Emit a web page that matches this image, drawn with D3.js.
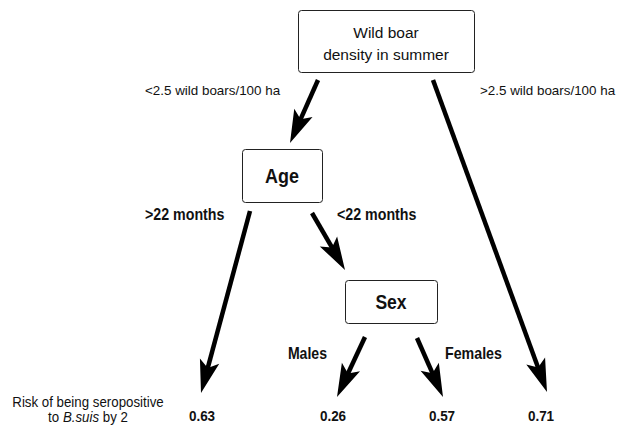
<!doctype html>
<html lang="en">
<head>
<meta charset="utf-8">
<title>Wild boar tree</title>
<style>
html, body {
	margin: 0;
	padding: 0;
	background: #fff;
	overflow: hidden;
}
svg text {
	font-family: 'Liberation Sans', Arial, sans-serif;
	fill: #111;
}
</style>
</head>
<body>
<div id="chart"></div>
<script src="https://cdnjs.cloudflare.com/ajax/libs/d3/7.8.5/d3.min.js"></script>
<script>
// nodes of the tree (split variables)
var nodeNames = ['density', 'age', 'sex'];
var nodeLabels = [['Wild boar', 'density in summer'], ['Age'], ['Sex']];

// branches: from node -> to node or leaf, with condition label
var edgeFrom = ['density', 'density', 'age', 'age', 'sex', 'sex'];
var edgeTo = ['age', 'leaf4', 'leaf1', 'sex', 'leaf2', 'leaf3'];
var edgeLabels = ['<2.5 wild boars/100 ha', '>2.5 wild boars/100 ha', '>22 months', '<22 months', 'Males', 'Females'];

// leaves: risk of being seropositive
var leafNames = ['leaf1', 'leaf2', 'leaf3', 'leaf4'];
var leafValues = [0.63, 0.26, 0.57, 0.71];

var W = 624, H = 425;

var svg = d3.select('#chart').append('svg')
	.attr('width', W)
	.attr('height', H);

// text helper: condensed text via horizontal scale
var label = function (x, y, str, o) {
	var g = svg.append('g')
		.attr('transform', 'translate(' + x + ',' + y + ') scale(' + (o.sx || 1) + ',1)');
	return g.append('text')
		.attr('text-anchor', o.anchor || 'middle')
		.attr('font-size', o.size)
		.attr('font-weight', o.bold ? 'bold' : 'normal')
		.text(str);
};

// layout (pixel space)
var boxes = {
	density: {x: 298, y: 10, w: 176, h: 62, size: 15.5, bold: false, sx: 1, lines: [38, 60]},
	age: {x: 242, y: 149, w: 80, h: 53, size: 19.5, bold: true, sx: 0.92, lines: [183]},
	sex: {x: 345, y: 280, w: 92, h: 43, size: 19.5, bold: true, sx: 0.9, lines: [309]}
};
var leafX = {leaf1: 202, leaf2: 333, leaf3: 442, leaf4: 541};
var leafY = 421;

// arrow start / tip
var arrows = [
	{s: [318, 80], t: [290, 143]},
	{s: [433, 80], t: [547, 392]},
	{s: [250, 211], t: [201, 393]},
	{s: [312, 213], t: [345, 270]},
	{s: [365, 337], t: [337, 397]},
	{s: [417, 338], t: [443, 397]}
];
var labelPos = [
	{x: 145, y: 95, size: 13.4, bold: false, sx: 1, anchor: 'start'},
	{x: 480, y: 95, size: 13.4, bold: false, sx: 1, anchor: 'start'},
	{x: 145, y: 220, size: 16, bold: true, sx: 0.89, anchor: 'start'},
	{x: 337, y: 220, size: 16, bold: true, sx: 0.89, anchor: 'start'},
	{x: 327, y: 359, size: 16, bold: true, sx: 0.88, anchor: 'end'},
	{x: 445, y: 359, size: 16, bold: true, sx: 0.89, anchor: 'start'}
];

// boxes
nodeNames.forEach(function (n, i) {
	var b = boxes[n];
	svg.append('rect')
		.attr('x', b.x + 0.5).attr('y', b.y + 0.5)
		.attr('width', b.w).attr('height', b.h)
		.attr('rx', 3)
		.attr('fill', '#fff')
		.attr('stroke', '#222')
		.attr('stroke-width', 1);
	nodeLabels[i].forEach(function (l, j) {
		label(b.x + b.w / 2, b.lines[j], l, {size: b.size, bold: b.bold, sx: b.sx});
	});
});

// arrows: thick shaft plus barbed head
var HEAD = 33, NOTCH = 26, HALF = 10;
var arrowPath = function (a) {
	var dx = a.t[0] - a.s[0], dy = a.t[1] - a.s[1];
	var len = Math.sqrt(dx * dx + dy * dy);
	var ux = dx / len, uy = dy / len;
	var px = -uy, py = ux;
	var bx = a.t[0] - ux * HEAD, by = a.t[1] - uy * HEAD;
	var nx = a.t[0] - ux * NOTCH, ny = a.t[1] - uy * NOTCH;
	var p = d3.path();
	p.moveTo(a.t[0], a.t[1]);
	p.lineTo(bx + px * HALF, by + py * HALF);
	p.lineTo(nx, ny);
	p.lineTo(bx - px * HALF, by - py * HALF);
	p.closePath();
	return {shaft: [a.s, [nx + ux * 2, ny + uy * 2]], head: p.toString()};
};

var line = d3.line();
arrows.forEach(function (a) {
	var g = arrowPath(a);
	svg.append('path')
		.attr('d', line(g.shaft))
		.attr('stroke', '#000')
		.attr('stroke-width', 4.5)
		.attr('fill', 'none');
	svg.append('path')
		.attr('d', g.head)
		.attr('fill', '#000');
});

// edge labels
edgeLabels.forEach(function (l, i) {
	var p = labelPos[i];
	label(p.x, p.y, l, p);
});

// leaf values
leafNames.forEach(function (n, i) {
	label(leafX[n], leafY, d3.format('.2f')(leafValues[i]), {size: 15.5, bold: true, sx: 0.87});
});

// row caption
var cap = label(88, 407, '', {size: 14, sx: 0.95});
cap.append('tspan').attr('x', 0).text('Risk of being seropositive');
var cap2 = cap.append('tspan').attr('x', 0).attr('dy', 15);
cap2.append('tspan').text('to ');
cap2.append('tspan').attr('font-style', 'italic').text('B.suis');
cap2.append('tspan').text(' by 2');
</script>
</body>
</html>
